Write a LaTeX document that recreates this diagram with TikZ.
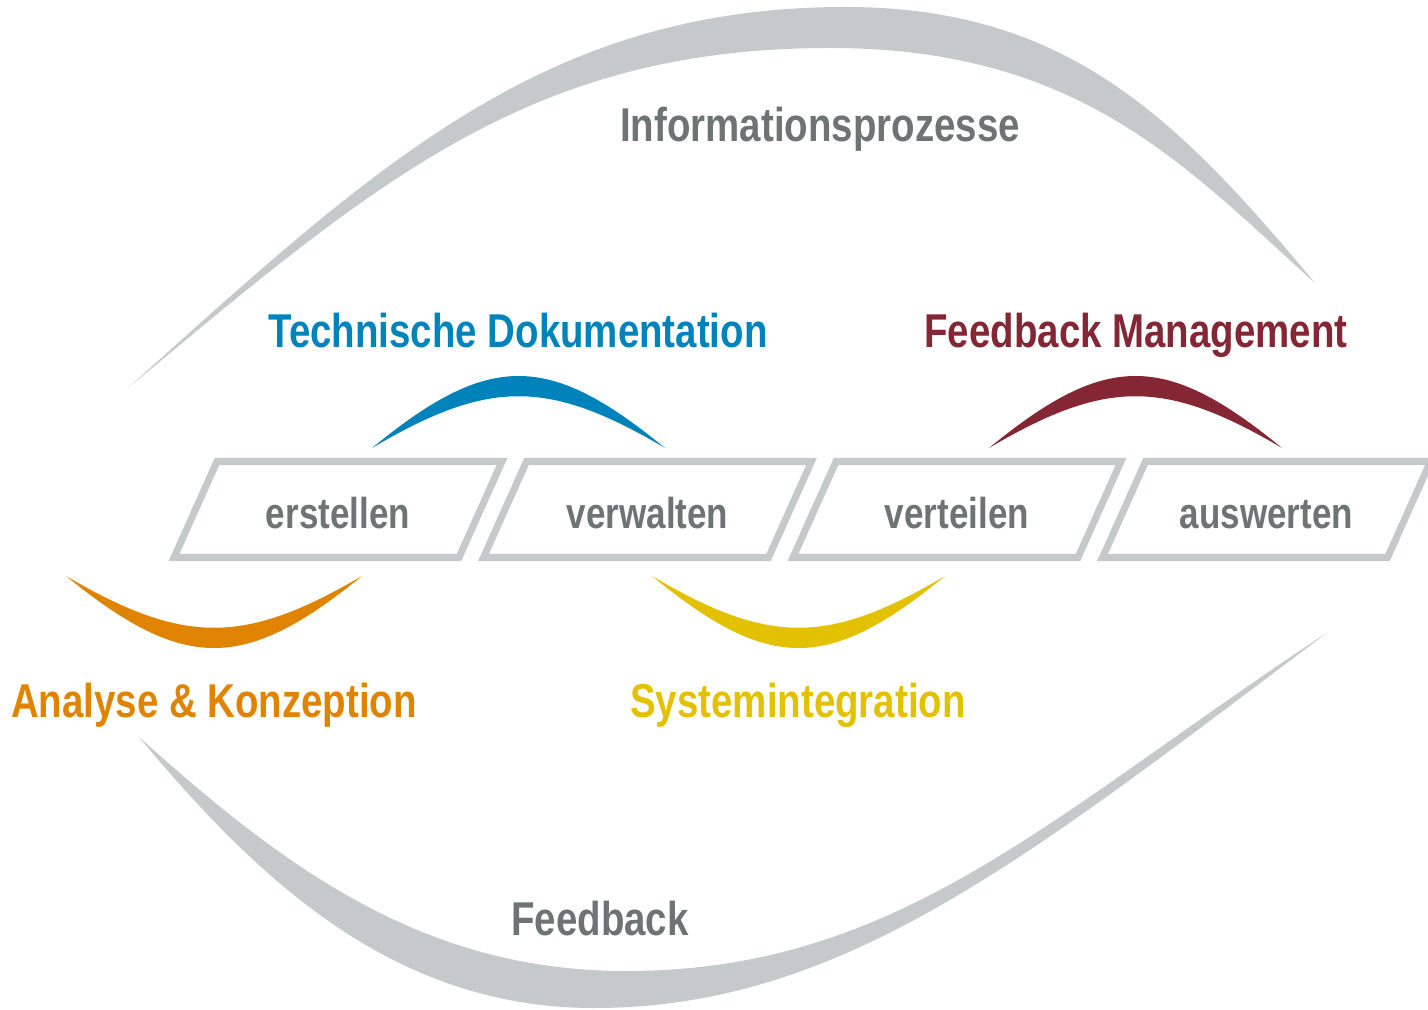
\documentclass[tikz,border=0pt]{standalone}
\usepackage{fontspec}
\setmainfont{Liberation Sans}[FakeStretch=0.81]
\usepackage{xcolor}
\definecolor{hellgrau}{HTML}{C5C9C9}
\definecolor{textgrau}{HTML}{6E7373}
\definecolor{tdblau}{HTML}{0083BB}
\definecolor{fmrot}{HTML}{842634}
\definecolor{akorange}{HTML}{E08300}
\definecolor{sigelb}{HTML}{E3C100}

\begin{document}
\begin{tikzpicture}[x=0.01cm, y=-0.01cm,
        kasten/.style={draw=hellgrau, line width=0.07cm, line join=miter},
        wort/.style={anchor=base, inner sep=0pt, text=textgrau, font=\fontsize{12.3}{14}\selectfont\bfseries},
        titel/.style={anchor=base, inner sep=0pt, font=\fontsize{13.5}{15}\selectfont\bfseries}]
        \useasboundingbox (0,0) rectangle (1428,1010);

        % Bogen oben
        \fill[hellgrau] (128,388) .. controls (378,163) and (545,7) .. (845,7)
            .. controls (1065,7) and (1175,115) .. (1315,283)
            .. controls (1185,166) and (1080,48) .. (830,48)
            .. controls (530,48) and (378,180) .. (128,388) -- cycle;
        % Bogen unten
        \fill[hellgrau] (139,737) .. controls (259,881) and (394,1008) .. (594,1008)
            .. controls (844,1008) and (1028,857) .. (1328,632)
            .. controls (1050,815) and (900,971) .. (626,971)
            .. controls (426,971) and (289,872) .. (139,737) -- cycle;

        % Kleine Boegen
        \fill[tdblau] (372,448) .. controls (489,352) and (548,352) .. (665,448) .. controls (548,379) and (489,379) .. (372,448) -- cycle;
        \fill[fmrot] (989,448) .. controls (1106,352) and (1165,352) .. (1282,448) .. controls (1165,379) and (1106,379) .. (989,448) -- cycle;
        \fill[akorange] (66,576) .. controls (184,672) and (244,672) .. (362,576) .. controls (244,645) and (184,645) .. (66,576) -- cycle;
        \fill[sigelb] (652,576) .. controls (769,672) and (828,672) .. (945,576) .. controls (828,645) and (769,645) .. (652,576) -- cycle;

        % Prozessschritte
        \foreach \wort [count=\i from 0] in {erstellen, verwalten, verteilen, auswerten} {
            \draw[kasten] ({174+309.5*\i}, 557.5) -- ++(43,-96) -- ++(285,0) -- ++(-43,96) -- cycle;
            \node[wort] (\wort) at ({338+309.5*\i}, 528) {\wort};
        }

        % Beschriftungen
        \node[titel, text=textgrau] (info) at (820,142) {Informationsprozesse};
        \node[titel, text=tdblau] (doku) at (518,348) {Technische Dokumentation};
        \node[titel, text=fmrot] (fbm) at (1136,348) {Feedback Management};
        \node[titel, text=akorange] (analyse) at (214,717) {Analyse \& Konzeption};
        \node[titel, text=sigelb] (system) at (798,717) {Systemintegration};
        \node[titel, text=textgrau] (feedback) at (600,935) {Feedback};
    \end{tikzpicture}
\end{document}
